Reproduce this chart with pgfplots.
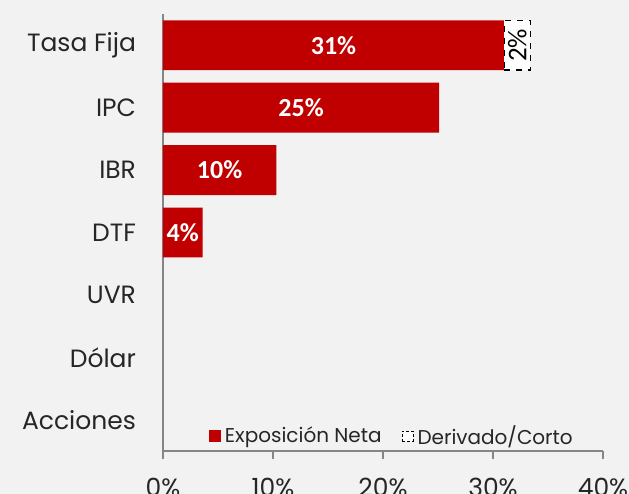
\documentclass[border=0pt]{standalone}
\usepackage{pgfplots}
\pgfplotsset{compat=1.18}
\usepackage{fontspec}
\setmainfont{Poppins}
\newfontfamily\carlito{Carlito}
\definecolor{bg}{HTML}{F2F2F2}
\definecolor{barred}{HTML}{C00000}
\definecolor{axgray}{HTML}{868686}
\definecolor{txt}{HTML}{262626}
\begin{document}
\begin{tikzpicture}
\fill[bg, use as bounding box] (-81.5pt,-21.5pt) rectangle (233pt,225.5pt);
\begin{axis}[
  at={(0,0)}, anchor=south west,
  scale only axis, width=220pt, height=218.5pt,
  xmin=0, xmax=40, ymin=-0.5, ymax=6.5,
  axis lines=left, axis line style={-, axgray, line width=0.7pt},
  xbar stacked, bar width=0.8,
  xtick={0,10,20,30,40},
  xticklabels={0\%,10\%,20\%,30\%,40\%},
  ytick={0,...,6},
  yticklabels={Acciones\hspace{3.5pt},D\'olar,UVR,DTF,IBR,IPC,Tasa Fija},
  minor ytick={-0.5,0.5,...,6.5},
  tick align=outside,
  major tick length=4pt, minor tick length=3pt,
  ytick style={draw=none},
  minor tick style={axgray, line width=0.7pt},
  xtick style={axgray, line width=0.7pt},
  tick label style={font=\fontsize{12.5}{14}\selectfont, text=txt},
  yticklabel style={xshift=-6pt},
  xticklabel style={yshift=-6pt},
  legend style={at={(0.955,-0.011)}, anchor=south east, draw=none, fill=none,
    font=\fontsize{10}{12}\selectfont, text=txt, legend columns=2,
    /tikz/every even column/.append style={column sep=8pt}},
  point meta=explicit symbolic,
]
\addplot[fill=barred, draw=none,
  legend image code/.code={\fill[barred] (0pt,-3pt) rectangle (6pt,3pt);},
  nodes near coords={\pgfplotspointmeta\%},
  every node near coord/.append style={anchor=center,
    font=\carlito\bfseries\fontsize{13}{15}\selectfont, text=white}]
  coordinates {(31,6) [31] (25.1,5) [25] (10.3,4) [10] (3.6,3) [4]};
\addlegendentry{Exposici\'on Neta}
\addplot[fill=white, draw=black, dashed, line width=0.7pt,
  legend image code/.code={\path[fill=white, draw=black, solid, line width=0.5pt, dash pattern=on 1.5pt off 1pt] (0.3pt,-2.7pt) rectangle (5.7pt,2.7pt);},
  nodes near coords={\pgfplotspointmeta\%},
  every node near coord/.append style={anchor=center, rotate=90,
    font=\carlito\fontsize{13.5}{15}\selectfont, text=black}]
  coordinates {(2.4,6) [2]};
\addlegendentry{Derivado/Corto}
\end{axis}
\end{tikzpicture}
\end{document}
